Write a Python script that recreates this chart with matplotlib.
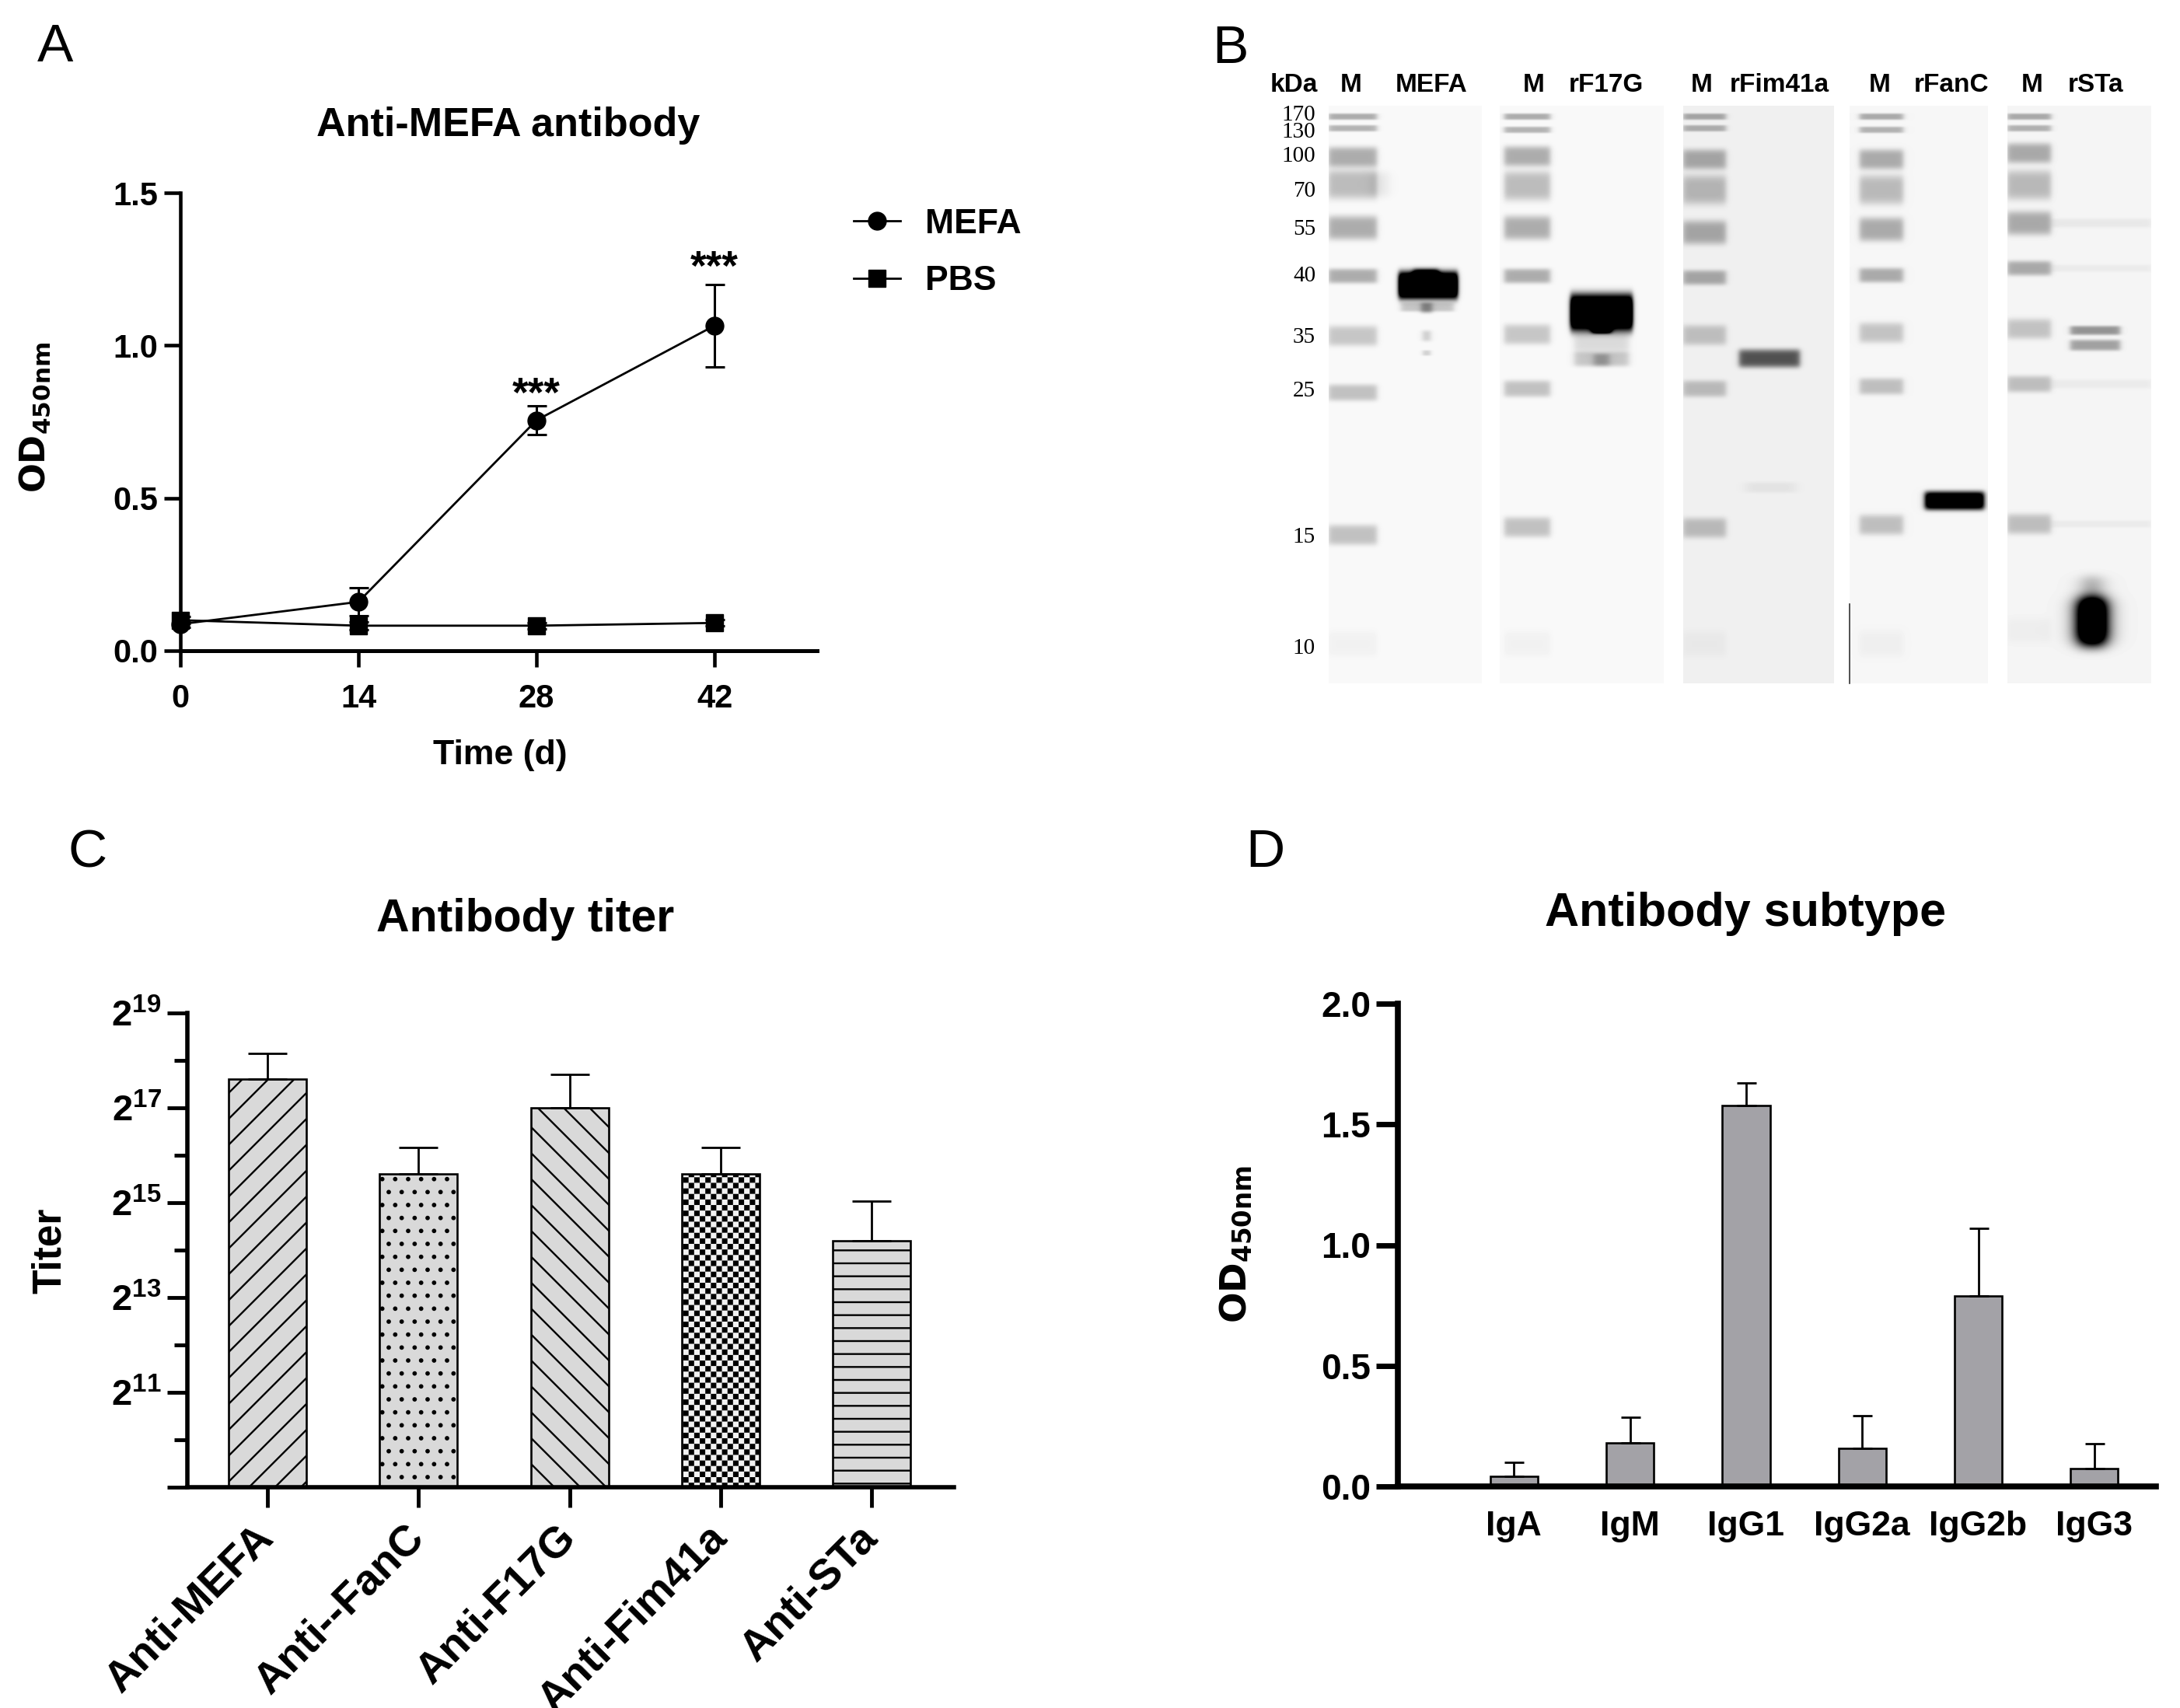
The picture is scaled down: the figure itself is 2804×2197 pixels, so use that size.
import numpy as np
import matplotlib
matplotlib.use("Agg")
import matplotlib.pyplot as plt
import matplotlib.hatch as mhatch
from matplotlib.path import Path
from matplotlib.ticker import NullFormatter
from matplotlib.transforms import ScaledTranslation

W, H = 2804, 2197

plt.rcParams["font.family"] = ["Liberation Sans", "DejaVu Sans"]
plt.rcParams["font.weight"] = "bold"
plt.rcParams["mathtext.fontset"] = "custom"
plt.rcParams["mathtext.bf"] = "Liberation Sans:bold"
plt.rcParams["mathtext.rm"] = "Liberation Sans"
plt.rcParams["hatch.linewidth"] = 1.7

# panel A
DAYS = [0, 14, 28, 42]
MEFA = [0.087, 0.16, 0.755, 1.065]
MEFA_ERR = [0.01, 0.046, 0.047, 0.135]
PBS = [0.10, 0.082, 0.082, 0.091]
PBS_ERR = [0.012, 0.012, 0.01, 0.01]
STAR_DAYS = [28, 42]
STAR_Y = [0.835, 1.25]

# panel C
TITER_LABELS = ["Anti-MEFA", "Anti--FanC", "Anti-F17G", "Anti-Fim41a", "Anti-STa"]
TITER = [198600, 49700, 131072, 49700, 18800]
TITER_UP = [291000, 73200, 213000, 73200, 33500]
TITER_HATCH = ["/", ".", "\\", "*", "-"]
TITER_FACE = ["#d9d9d9", "#d9d9d9", "#d9d9d9", "#f2f2f2", "#d9d9d9"]
TITER_EXP = [9, 11, 13, 15, 17, 19]
TITER_MINOR_EXP = [10, 12, 14, 16, 18]

# panel D
SUBTYPES = ["IgA", "IgM", "IgG1", "IgG2a", "IgG2b", "IgG3"]
SUB_OD = [0.043, 0.18, 1.577, 0.158, 0.788, 0.074]
SUB_UP = [0.10, 0.287, 1.672, 0.293, 1.069, 0.176]

# panel B, gel strips in picture pixels
STRIPS = [(1709, 1906), (1929, 2140), (2165, 2359), (2379, 2557), (2582, 2767)]
STRIP_BG = [0.975, 0.975, 0.94, 0.965, 0.96]
GEL_TOP, GEL_BOTTOM = 136, 879
LADDER_X = [(1709, 1771), (1935, 1994), (2165, 2220), (2392, 2448), (2582, 2638)]
LADDER_Y = [
    [150, 165, 202, 237, 293, 355, 432, 505, 688, 828],
    [150, 167, 201, 239, 293, 355, 430, 500, 678, 828],
    [150, 165, 205, 244, 299, 357, 431, 500, 679, 828],
    [150, 167, 205, 244, 295, 354, 428, 497, 675, 828],
    [150, 165, 197, 238, 287, 345, 423, 494, 674, 811],
]
LADDER_HALF = [3.5, 3.5, 11, 16, 13, 8, 11, 9, 11, 14]
LADDER_AMP = [0.3, 0.27, 0.3, 0.24, 0.3, 0.3, 0.2, 0.22, 0.22, 0.03]
# x0, x1, y, half height, amplitude, edge softness
SAMPLE_BANDS = [
    [(1765, 1785, 237, 14, 0.08, 8), (1799, 1875, 367, 15, 1.6, 3),
     (1818, 1850, 358, 10, 1.0, 4), (1802, 1870, 395, 5, 0.2, 4),
     (1828, 1842, 396, 6, 0.3, 4), (1830, 1840, 432, 6, 0.18, 4),
     (1830, 1840, 454, 3, 0.16, 3)],
    [(2020, 2100, 402, 20, 1.6, 3), (2048, 2072, 422, 6, 1.0, 4),
     (2025, 2095, 440, 12, 0.12, 5), (2025, 2095, 462, 8, 0.2, 5),
     (2050, 2070, 463, 7, 0.22, 5)],
    [(2237, 2315, 461, 10, 0.62, 4), (2245, 2310, 627, 6, 0.05, 8)],
    [(2476, 2552, 644, 10, 1.3, 4)],
    [(2663, 2727, 425, 5, 0.38, 4), (2663, 2727, 444, 6, 0.33, 4),
     (2638, 2767, 287, 5, 0.05, 4), (2638, 2767, 345, 4, 0.04, 4),
     (2638, 2767, 494, 5, 0.04, 4), (2638, 2767, 674, 4, 0.04, 4),
     (2680, 2702, 762, 18, 0.4, 14), (2675, 2707, 800, 26, 2.2, 13)],
]
TOP_LABELS = ["kDa", "M", "MEFA", "M", "rF17G", "M", "rFim41a", "M", "rFanC", "M", "rSTa"]
TOP_X = [1664, 1738, 1841, 1973, 2066, 2189, 2289, 2418, 2510, 2614, 2696]
KDA = ["170", "130", "100", "70", "55", "40", "35", "25", "15", "10"]
KDA_Y = [148, 170, 201, 246, 295, 355, 434, 503, 691, 834]

PANELS = ["A", "B", "C", "D"]
PANEL_X = [71, 1582, 113, 1627]
PANEL_Y = [61, 63, 1097, 1097]


class CheckerHatch(mhatch.HatchPatternBase):
    # takes the place of the star hatch: "*" draws the black squares of a checkerboard
    cells = 14
    side = 0.047

    def __init__(self, hatch, density):
        self.num_vertices = 0
        if "*" in (hatch or ""):
            self.num_vertices = 5 * self.cells * self.cells // 2

    def set_vertices_and_codes(self, vertices, codes):
        step = 1.0 / self.cells
        s = self.side / 2
        k = 0
        for row in range(self.cells):
            for col in range(self.cells):
                if (row + col) % 2:
                    continue
                x, y = (col + 0.5) * step, (row + 0.5) * step
                vertices[k:k + 5] = [(x - s, y - s), (x + s, y - s), (x + s, y + s),
                                     (x - s, y + s), (x - s, y - s)]
                codes[k:k + 5] = [Path.MOVETO, Path.LINETO, Path.LINETO, Path.LINETO,
                                  Path.CLOSEPOLY]
                k += 5


mhatch._hatch_types[:] = [t for t in mhatch._hatch_types if t is not mhatch.Stars] + [CheckerHatch]


def px_axes(fig, left, right, top, bottom):
    ax = fig.add_axes([left / W, 1 - bottom / H, (right - left) / W, (bottom - top) / H])
    ax.patch.set_alpha(0)
    ax.spines["top"].set_visible(False)
    ax.spines["right"].set_visible(False)
    return ax


def strip_image(idx):
    x0, x1 = STRIPS[idx]
    xs = np.arange(x0, x1) + 0.5
    ys = np.arange(GEL_TOP, GEL_BOTTOM) + 0.5
    X, Y = np.meshgrid(xs, ys)
    dark = np.zeros_like(X)

    def add_band(bx0, bx1, by, half, amp, soft):
        across = 0.5 * (np.tanh((X - bx0) / soft) - np.tanh((X - bx1) / soft))
        return amp * across * np.exp(-0.5 * ((Y - by) / half) ** 4)

    lx0, lx1 = LADDER_X[idx]
    for by, half, amp in zip(LADDER_Y[idx], LADDER_HALF, LADDER_AMP):
        dark += add_band(lx0, lx1, by, half, amp, 4)
    for band in SAMPLE_BANDS[idx]:
        dark += add_band(*band)
    return np.clip(STRIP_BG[idx] - dark, 0, 1)


def draw_gel(fig):
    ax = fig.add_axes([0, 0, 1, 1])
    for i, (x0, x1) in enumerate(STRIPS):
        ax.imshow(strip_image(i), cmap="gray", vmin=0, vmax=1, aspect="auto",
                  extent=(x0, x1, GEL_BOTTOM, GEL_TOP), interpolation="bilinear")
    ax.plot([2379, 2379], [777, 879], color="#333333", lw=1.2)
    ax.set_xlim(0, W)
    ax.set_ylim(H, 0)
    ax.axis("off")
    for label, x in zip(TOP_LABELS, TOP_X):
        ax.text(x, 109, label, fontsize=24, ha="center", va="center")
    for label, y in zip(KDA, KDA_Y):
        ax.text(1692, y, label, fontsize=21, ha="right", va="center",
                family="Liberation Serif", weight="normal")
    for label, x, y in zip(PANELS, PANEL_X, PANEL_Y):
        ax.text(x, y, label, fontsize=50, ha="center", va="center",
                family="Liberation Sans", weight="normal")
    ax.text(654, 162, "Anti-MEFA antibody", fontsize=37.5, ha="center", va="center")
    ax.text(676, 1183, "Antibody titer", fontsize=42.5, ha="center", va="center")
    ax.text(2245, 1175, "Antibody subtype", fontsize=44, ha="center", va="center")
    ax.text(643, 971, "Time (d)", fontsize=32, ha="center", va="center")
    ax.text(64, 1609, "Titer", fontsize=37, ha="center", va="center", rotation=90)
    ax.text(45, 537, r"$\mathbf{OD_{450nm}}$", fontsize=32, ha="center", va="center",
            rotation=90, math_fontfamily="dejavusans")
    ax.text(1590, 1600, r"$\mathbf{OD_{450nm}}$", fontsize=33.5, ha="center", va="center",
            rotation=90, math_fontfamily="dejavusans")


def draw_time_course(fig):
    ax = px_axes(fig, 232, 1051, 248, 837)
    ax.plot(DAYS, MEFA, "-o", color="black", lw=2, ms=16.5, label="MEFA", clip_on=False, zorder=3)
    ax.plot(DAYS, PBS, "-s", color="black", lw=2, ms=16, label="PBS", clip_on=False, zorder=3)
    ax.errorbar(DAYS, MEFA, yerr=MEFA_ERR, fmt="none", ecolor="black", elinewidth=2.2,
                capsize=9, capthick=2.2, zorder=2)
    ax.errorbar(DAYS, PBS, yerr=PBS_ERR, fmt="none", ecolor="black", elinewidth=2.2,
                capsize=9, capthick=2.2, zorder=2)
    for d, y in zip(STAR_DAYS, STAR_Y):
        ax.text(d, y, "***", fontsize=38, ha="center", va="center")
    ax.set_xlim(0, 50.06)
    ax.set_ylim(0, 1.5)
    ax.set_xticks(DAYS)
    ax.set_yticks([0, 0.5, 1.0, 1.5], ["0.0", "0.5", "1.0", "1.5"])
    ax.spines["left"].set_linewidth(3.3)
    ax.spines["bottom"].set_linewidth(3.6)
    ax.tick_params(axis="x", length=15, width=3.3, labelsize=30, pad=15)
    ax.tick_params(axis="y", length=15, width=3.3, labelsize=30, pad=6)
    ax.legend(loc="upper left", bbox_to_anchor=(1098 / W, 1 - 268 / H),
              bbox_transform=fig.transFigure, frameon=False, fontsize=32,
              handlelength=1.36, handletextpad=0.72, labelspacing=0.73,
              borderaxespad=0, borderpad=0)


def draw_titers(fig):
    ax = px_axes(fig, 241, 1227, 1303, 1913)
    pos = np.arange(len(TITER))
    base = 2.0 ** TITER_EXP[0]
    ax.set_yscale("log", base=2)
    ax.bar(pos, np.array(TITER) - base, bottom=base, width=0.515, color=TITER_FACE,
           edgecolor="black", linewidth=1.9, hatch=TITER_HATCH)
    upper = np.array(TITER_UP) - np.array(TITER)
    ax.errorbar(pos, TITER, yerr=[np.zeros(len(TITER)), upper], fmt="none", ecolor="black",
                elinewidth=2, capsize=18, capthick=2)
    ax.set_xlim(-0.53, 4.545)
    ax.set_ylim(2.0 ** TITER_EXP[0], 2.0 ** TITER_EXP[-1])
    ax.set_yticks([2.0 ** e for e in TITER_EXP])
    ax.set_yticklabels([""] + [rf"$\mathbf{{2}}^{{\mathrm{{{e}}}}}$" for e in TITER_EXP[1:]],
                       fontsize=34)
    ax.set_yticks([2.0 ** e for e in TITER_MINOR_EXP], minor=True)
    ax.yaxis.set_minor_formatter(NullFormatter())
    ax.set_xticks(pos)
    ax.set_xticklabels(TITER_LABELS, rotation=45, ha="right", va="center",
                       rotation_mode="anchor", fontsize=40)
    shift = ScaledTranslation(16 / 100, 0, fig.dpi_scale_trans)
    for lab in ax.get_xticklabels():
        lab.set_transform(lab.get_transform() + shift)
    ax.spines["left"].set_linewidth(4)
    ax.spines["bottom"].set_linewidth(4)
    ax.tick_params(axis="y", which="major", length=19, width=3.5, pad=5)
    ax.tick_params(axis="y", which="minor", length=12, width=3.5)
    ax.tick_params(axis="x", length=19, width=3.5, pad=22)


def draw_subtypes(fig):
    ax = px_axes(fig, 1798, 2773, 1291, 1912)
    pos = np.arange(len(SUB_OD))
    ax.bar(pos, SUB_OD, width=0.41, color="#a3a2a7", edgecolor="black", linewidth=1.9)
    upper = np.array(SUB_UP) - np.array(SUB_OD)
    ax.errorbar(pos, SUB_OD, yerr=[np.zeros(len(SUB_OD)), upper], fmt="none", ecolor="black",
                elinewidth=2, capsize=9, capthick=2)
    ax.set_xlim(-1.0, 5.53)
    ax.set_ylim(0, 2.0)
    ax.set_yticks([0, 0.5, 1.0, 1.5, 2.0], ["0.0", "0.5", "1.0", "1.5", "2.0"])
    ax.set_xticks(pos, SUBTYPES)
    ax.spines["left"].set_linewidth(5.5)
    ax.spines["bottom"].set_linewidth(5.5)
    ax.tick_params(axis="y", length=20, width=5, labelsize=33, pad=5)
    ax.tick_params(axis="x", length=0, labelsize=32, pad=22)


def main():
    fig = plt.figure(figsize=(W / 100, H / 100), dpi=100, facecolor="white")
    draw_gel(fig)
    draw_time_course(fig)
    draw_titers(fig)
    draw_subtypes(fig)
    fig.savefig("out.png", dpi=100)
    plt.close(fig)


if __name__ == "__main__":
    main()
